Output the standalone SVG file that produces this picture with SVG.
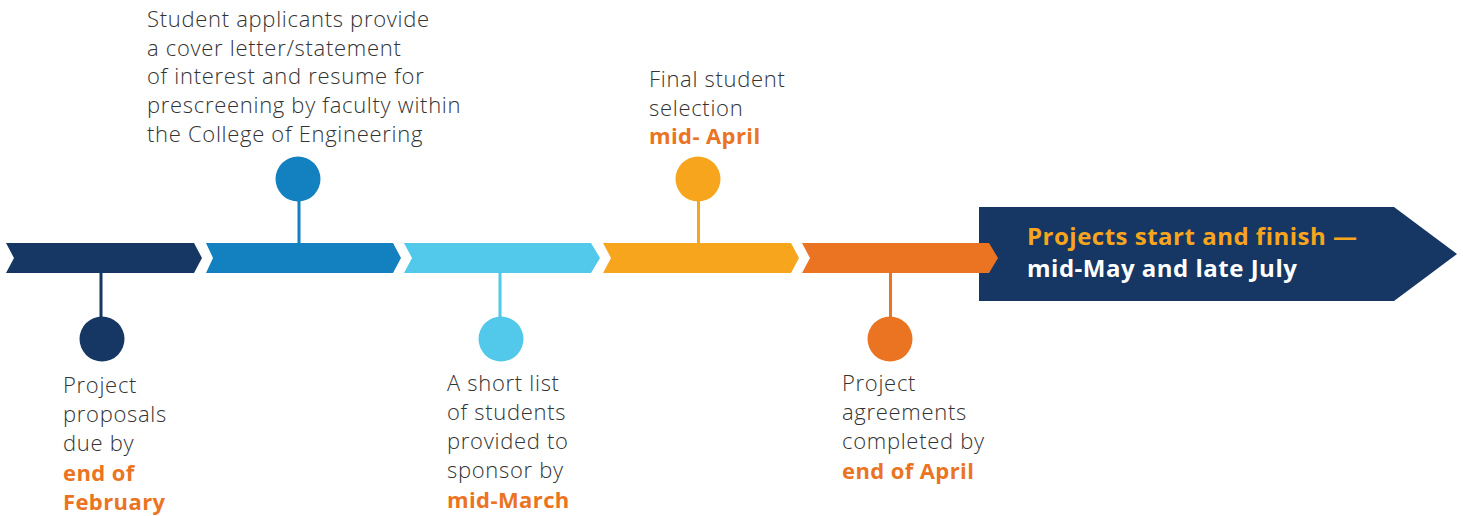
<svg xmlns="http://www.w3.org/2000/svg" width="1463" height="516" viewBox="0 0 1463 516">
<style>
.t{font-family:"Open Sans","Noto Sans","Liberation Sans",sans-serif;font-size:22px;fill:#333333;font-weight:300;letter-spacing:0.7px}
.b{font-family:"Open Sans","Noto Sans","Liberation Sans",sans-serif;font-size:22px;fill:#EB7423;font-weight:700;letter-spacing:0.4px}
.h{font-family:"Open Sans","Noto Sans","Liberation Sans",sans-serif;font-size:24px;font-weight:700;letter-spacing:0.5px}
</style>
<rect width="1463" height="516" fill="#ffffff"/>
<g id="final">
<polygon points="979,207 1394,207 1457,254 1394,301 979,301" fill="#163763"/>
<text class="h" x="1027" y="245" fill="#F8A51E">Projects start and finish —</text>
<text class="h" x="1027" y="277" fill="#ffffff">mid-May and late July</text>
</g>
<g id="connectors">
<rect x="99.5" y="273" width="3" height="46" fill="#163763"/>
<rect x="297.5" y="200" width="3" height="43" fill="#1380C0"/>
<rect x="498.5" y="273" width="3" height="46" fill="#52C8EA"/>
<rect x="697" y="200" width="3" height="43" fill="#F8A51E"/>
<rect x="889" y="273" width="3" height="46" fill="#EB7423"/>
</g>
<g id="timeline">
<polygon points="6,243 194,243 202,258 194,273 6,273 14,258" fill="#163763"/>
<polygon points="206,243 393,243 401,258 393,273 206,273 213,258" fill="#1380C0"/>
<polygon points="404,243 591,243 600,258 591,273 404,273 412,258" fill="#52C8EA"/>
<polygon points="603,243 791,243 799,258 791,273 603,273 611,258" fill="#F8A51E"/>
<polygon points="802,243 989,243 998,258 989,273 802,273 810,258" fill="#EB7423"/>
</g>
<g id="step1">
<circle cx="102" cy="339" r="22.5" fill="#163763"/>
<text class="t" x="63" y="393">Project</text>
<text class="t" x="63" y="422">proposals</text>
<text class="t" x="63" y="451">due by</text>
<text class="b" x="63" y="481">end of</text>
<text class="b" x="63" y="510">February</text>
</g>
<g id="step2">
<circle cx="298" cy="179" r="22.5" fill="#1380C0"/>
<text class="t" x="147" y="27">Student applicants provide</text>
<text class="t" x="147" y="56">a cover letter/statement</text>
<text class="t" x="147" y="84">of interest and resume for</text>
<text class="t" x="147" y="113">prescreening by faculty within</text>
<text class="t" x="147" y="142">the College of Engineering</text>
</g>
<g id="step3">
<circle cx="501" cy="339" r="22.5" fill="#52C8EA"/>
<text class="t" x="447" y="391">A short list</text>
<text class="t" x="447" y="420">of students</text>
<text class="t" x="447" y="449">provided to</text>
<text class="t" x="447" y="478">sponsor by</text>
<text class="b" x="447" y="508">mid-March</text>
</g>
<g id="step4">
<circle cx="698" cy="179" r="22.5" fill="#F8A51E"/>
<text class="t" x="649" y="87">Final student</text>
<text class="t" x="649" y="116">selection</text>
<text class="b" x="649" y="144">mid- April</text>
</g>
<g id="step5">
<circle cx="890" cy="339" r="22.5" fill="#EB7423"/>
<text class="t" x="842" y="391">Project</text>
<text class="t" x="842" y="420">agreements</text>
<text class="t" x="842" y="449">completed by</text>
<text class="b" x="842" y="479">end of April</text>
</g>
</svg>
